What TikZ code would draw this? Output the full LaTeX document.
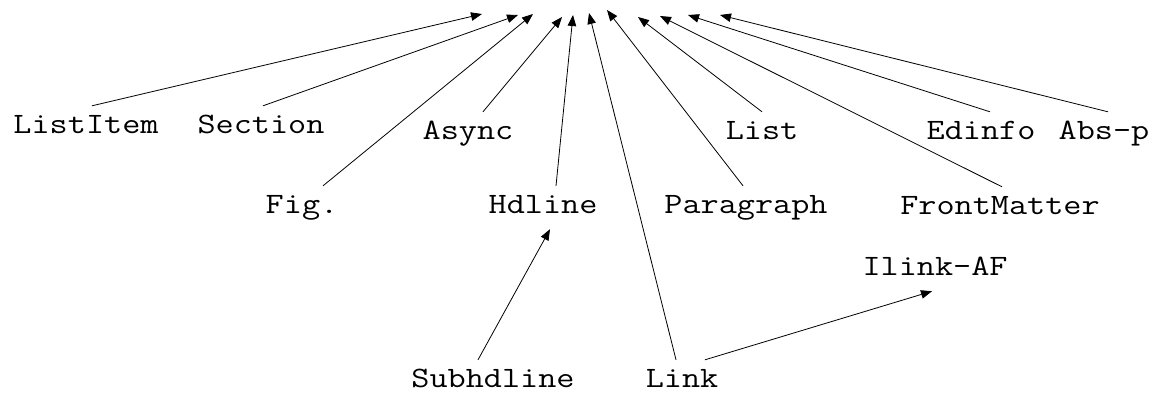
\documentclass[tikz,border=0pt]{standalone}
\usepackage{graphicx}
\usetikzlibrary{arrows.meta}
\newcommand\gvlabel[1]{\scalebox{1}[0.84]{\ttfamily\fontsize{35.2}{40}\selectfont #1}}
\begin{document}
\begin{tikzpicture}[x=1pt,y=-1pt,
  lbl/.style={inner sep=0pt, text height=27pt, text depth=16pt, anchor=base},
  arr/.style={draw=black, line width=0.8pt, -{Triangle[length=11pt,width=8.5pt]}}]
\useasboundingbox (0,0) rectangle (1158,392);
% invisible root: arrow tip points
\coordinate (tListItem) at (482,14);
\coordinate (tSection) at (518,15);
\coordinate (tFig) at (533,14);
\coordinate (tAsync) at (562,17);
\coordinate (tHdline) at (573,15);
\coordinate (tLink) at (589,13);
\coordinate (tParagraph) at (607,10);
\coordinate (tList) at (638,17);
\coordinate (tFront) at (660,16);
\coordinate (tEdinfo) at (688,15);
\coordinate (tAbs) at (720,15);
% nodes
\node[lbl] (listitem) at (86,133) {\gvlabel{ListItem}};
\node[lbl] (section) at (261,133) {\gvlabel{Section}};
\node[lbl] (async) at (468,139) {\gvlabel{Async}};
\node[lbl] (list) at (762,139) {\gvlabel{List}};
\node[lbl] (edinfo) at (981,139) {\gvlabel{Edinfo}};
\node[lbl] (absp) at (1104,139) {\gvlabel{Abs-p}};
\node[lbl] (fig) at (302,213) {\gvlabel{Fig.}};
\node[lbl] (hdline) at (543,213) {\gvlabel{Hdline}};
\node[lbl] (paragraph) at (746,213) {\gvlabel{Paragraph}};
\node[lbl] (front) at (1000,214) {\gvlabel{FrontMatter}};
\node[lbl] (ilink) at (935,275) {\gvlabel{Ilink-AF}};
\node[lbl] (subhdline) at (493,387) {\gvlabel{Subhdline}};
\node[lbl] (link) at (682,387) {\gvlabel{Link}};
% edges
\draw[arr] ([xshift=6pt]listitem.north) -- (tListItem);
\draw[arr] ([xshift=2pt]section.north) -- (tSection);
\draw[arr] ([xshift=21pt]fig.north) -- (tFig);
\draw[arr] ([xshift=15pt]async.north) -- (tAsync);
\draw[arr] ([xshift=13pt]hdline.north) -- (tHdline);
\draw[arr] ([xshift=-6pt]link.north) -- (tLink);
\draw[arr] ([xshift=-3pt]paragraph.north) -- (tParagraph);
\draw[arr] (list.north) -- (tList);
\draw[arr] ([xshift=2pt]front.north) -- (tFront);
\draw[arr] ([xshift=9pt]edinfo.north) -- (tEdinfo);
\draw[arr] ([xshift=4pt]absp.north) -- (tAbs);
\draw[arr] ([xshift=-15pt]subhdline.north) -- ([xshift=7pt]hdline.south);
\draw[arr] ([xshift=23pt]link.north) -- ([xshift=-3pt]ilink.south);
\end{tikzpicture}
\end{document}
